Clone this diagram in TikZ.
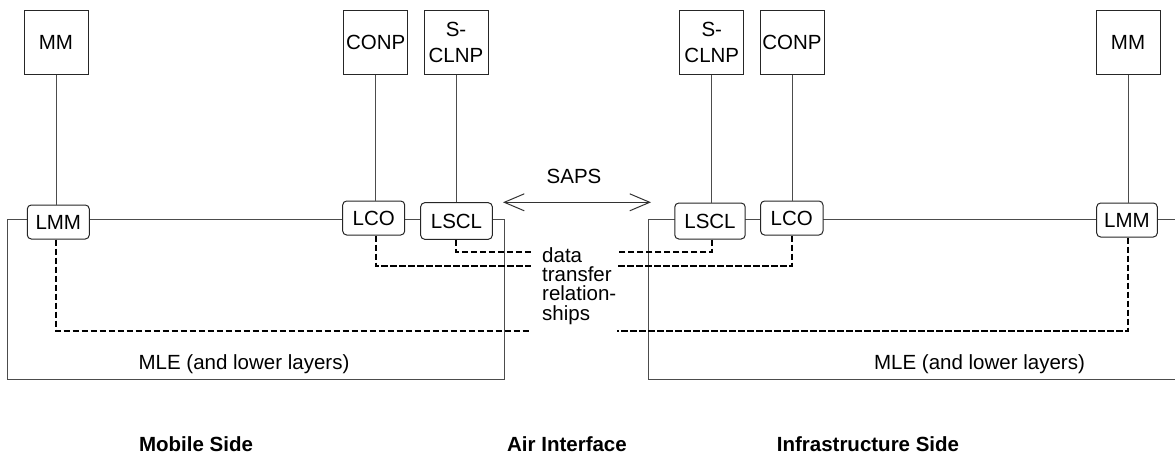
\documentclass[tikz,border=0pt]{standalone}
\usepackage{fontspec}
\setmainfont{Liberation Sans}
\usetikzlibrary{arrows.meta}
\begin{document}
\begin{tikzpicture}[x=1pt,y=-1pt,
  every node/.style={font=\fontsize{20.5}{18.7}\selectfont, inner sep=0pt},
  topbox/.style={draw=black!85, line width=1pt, fill=white, minimum width=64pt, minimum height=64pt, align=center},
  twoline/.style={font=\fontsize{20.5}{26}\selectfont},
  lbox/.style={draw=black!85, line width=1pt, fill=white, rounded corners=4pt, minimum height=34pt},
  thinline/.style={draw=black!70, line width=1pt},
  rel/.style={draw=black, line width=2.6pt, dash pattern=on 6.5pt off 2.5pt},
  reltext/.style={font=\fontsize{20.5}{19.4}\selectfont, align=left, anchor=north west},
  side/.style={font=\fontsize{20.5}{24}\selectfont\bfseries},
  sapsarrow/.style={draw=black!80, line width=1pt, {Straight Barb[length=20pt,width=17pt]}-{Straight Barb[length=20pt,width=17pt]}}
]
\useasboundingbox (0,0) rectangle (1175,461);
\clip (0,0) rectangle (1175,461);

% ---------- Mobile side ----------
\draw[thinline] (7.3,219) rectangle (504.3,379.3);
\node[topbox] (MMa) at (56,42) {MM};
\node[topbox] (CONPa) at (375.8,42) {CONP};
\node[topbox, twoline] (SCLNPa) at (456,42) {S-\\CLNP};
\node[lbox, minimum width=62pt] (LMMa) at (58.3,222) {LMM};
\node[lbox, minimum width=62pt] (LCOa) at (373.7,218) {LCO};
\node[lbox, minimum width=71.6pt, minimum height=36.6pt] (LSCLa) at (456.5,221) {LSCL};
\draw[thinline] (MMa.south) -- (MMa.south |- LMMa.north);
\draw[thinline] (CONPa.south) -- (CONPa.south |- LCOa.north);
\draw[thinline] (SCLNPa.south) -- (SCLNPa.south |- LSCLa.north);
\coordinate (dLa1) at (531,252);
\coordinate (dLa2) at (531,266);
\coordinate (dLa3) at (531,331);
\draw[rel] (SCLNPa.south |- LSCLa.south) |- (dLa1);
\draw[rel] (CONPa.south |- LCOa.south) |- (dLa2);
\draw[rel] (MMa.south |- LMMa.south) |- (dLa3);
\node (MLEa) at (244,364) {MLE (and lower layers)};

% ---------- Infrastructure side ----------
\draw[thinline] (648,219) rectangle (1190,379.3);
\node[topbox, twoline] (SCLNPb) at (711.8,42) {S-\\CLNP};
\node[topbox] (CONPb) at (792,42) {CONP};
\node[topbox] (MMb) at (1128,42) {MM};
\node[lbox, minimum width=70.4pt, minimum height=36pt] (LSCLb) at (710,221) {LSCL};
\node[lbox, minimum width=62.4pt] (LCOb) at (791.8,218) {LCO};
\node[lbox, minimum width=60.6pt] (LMMb) at (1127,220) {LMM};
\draw[thinline] (SCLNPb.south) -- (SCLNPb.south |- LSCLb.north);
\draw[thinline] (CONPb.south) -- (CONPb.south |- LCOb.north);
\draw[thinline] (MMb.south) -- (MMb.south |- LMMb.north);
\coordinate (dRb1) at (617,252);
\coordinate (dRb2) at (617,266);
\coordinate (dRb3) at (617,331);
\draw[rel] (SCLNPb.south |- LSCLb.south) |- (dRb1);
\draw[rel] (CONPb.south |- LCOb.south) |- (dRb2);
\draw[rel] (MMb.south |- LMMb.south) |- (dRb3);
\node (MLEb) at (979.5,364) {MLE (and lower layers)};

% ---------- Air interface ----------
\coordinate (sapsL) at (503,202.3);
\coordinate (sapsR) at (651,202.3);
\draw[sapsarrow] (sapsL) -- (sapsR);
\node (saps) at (574,176.5) {SAPS};
\node[reltext] (dtr) at (542,247) {data\\transfer\\relation-\\ships};

\node[side] (mob) at (196,444.5) {Mobile Side};
\node[side] (air) at (567,444.5) {Air Interface};
\node[side] (inf) at (868,444.5) {Infrastructure Side};
\end{tikzpicture}
\end{document}
